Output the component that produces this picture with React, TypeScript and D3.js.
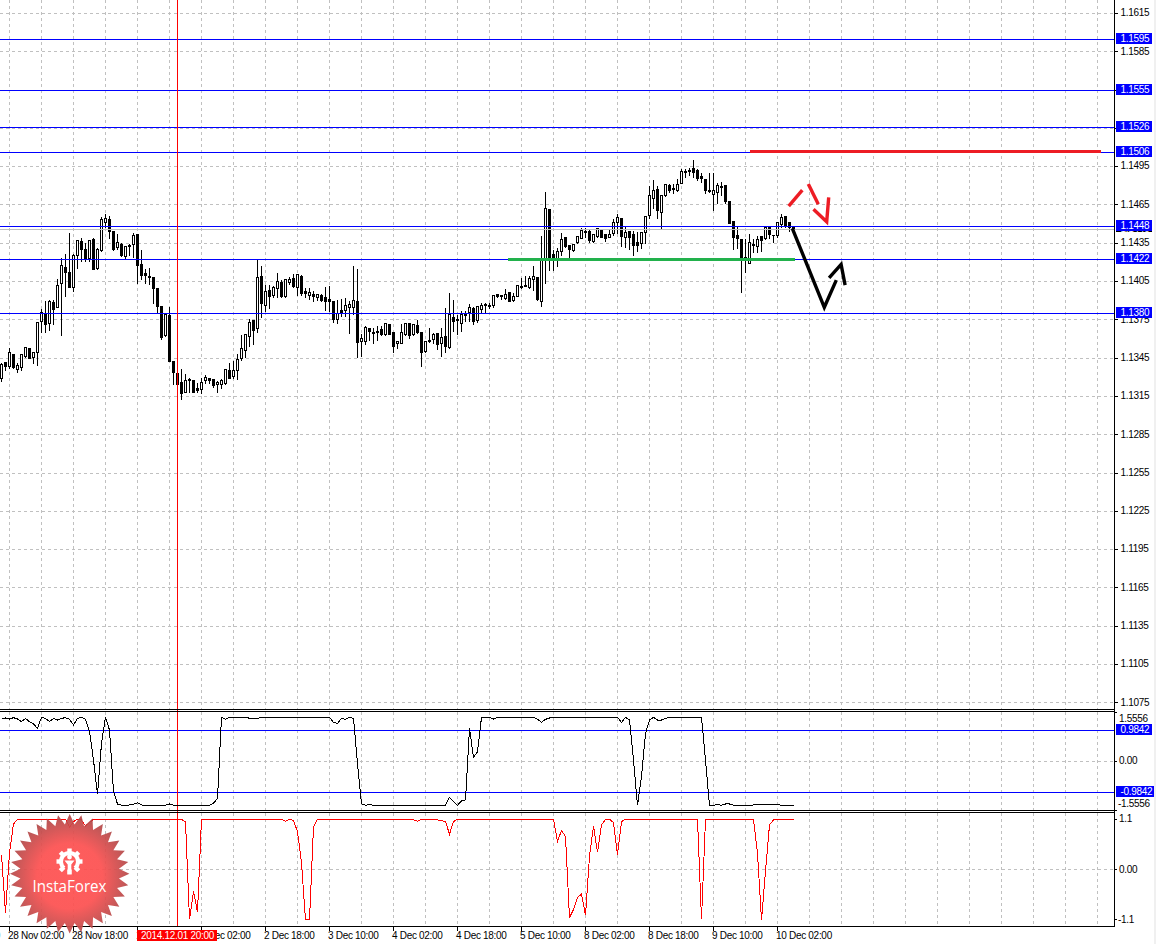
import React from "react";
import * as d3 from "d3";

const opens = [
1.13293,1.13415,1.13387,1.13479,1.13364,1.13379,1.13466,1.13523,1.13458,1.13497,
1.13740,1.13795,1.13724,1.13883,1.13849,1.14032,1.14158,1.14121,1.14001,1.14254,
1.14361,1.14299,1.14228,1.14377,1.14155,1.14291,1.14515,1.14534,1.14440,1.14319,
1.14340,1.14249,1.14332,1.14338,1.14419,1.14181,1.14111,1.14087,1.14079,1.13993,
1.13852,1.13630,1.13784,1.13421,1.13332,1.13259,1.13184,1.13280,1.13272,1.13210,
1.13202,1.13272,1.13291,1.13280,1.13241,1.13246,1.13254,1.13351,1.13309,1.13356,
1.13450,1.13507,1.13620,1.13745,1.13680,1.14090,1.13865,1.13980,1.13943,1.13993,
1.14043,1.13933,1.14043,1.14074,1.14004,1.14090,1.13970,1.13943,1.13946,1.13928,
1.13938,1.13923,1.13910,1.13891,1.13755,1.13821,1.13823,1.13849,1.13849,1.13894,
1.13583,1.13583,1.13680,1.13648,1.13659,1.13672,1.13635,1.13714,1.13651,1.13562,
1.13567,1.13635,1.13722,1.13635,1.13706,1.13651,1.13505,1.13586,1.13599,1.13641,
1.13567,1.13620,1.13536,1.13769,1.13753,1.13724,1.13792,1.13810,1.13839,1.13748,
1.13834,1.13868,1.13860,1.13863,1.13946,1.13941,1.13917,1.13964,1.13902,1.13936,
1.14011,1.14017,1.14004,1.14069,1.14079,1.13896,1.14220,1.14615,1.14259,1.14220,
1.14288,1.14393,1.14330,1.14293,1.14356,1.14390,1.14445,1.14442,1.14364,1.14403,
1.14453,1.14416,1.14398,1.14426,1.14513,1.14544,1.14395,1.14445,1.14416,1.14356,
1.14348,1.14437,1.14567,1.14703,1.14769,1.14594,1.14724,1.14800,1.14776,1.14763,
1.14821,1.14904,1.14917,1.14936,1.14920,1.14873,1.14852,1.14763,1.14735,1.14750,
1.14795,1.14805,1.14675,1.14521,1.14411,1.14382,1.14241,1.14194,1.14340,1.14327,
1.14400,1.14387,1.14473,1.14411,1.14411,1.14500,1.14557,1.14510,1.14471];

const highs = [
1.13413,1.13423,1.13534,1.13489,1.13416,1.13489,1.13541,1.13534,1.13505,1.13732,
1.13836,1.13902,1.13907,1.13907,1.14071,1.14236,1.14267,1.14432,1.14267,1.14377,
1.14398,1.14359,1.14380,1.14398,1.14314,1.14560,1.14581,1.14570,1.14440,1.14429,
1.14356,1.14332,1.14351,1.14432,1.14424,1.14299,1.14155,1.14160,1.14079,1.13993,
1.13852,1.13797,1.13855,1.13421,1.13366,1.13366,1.13327,1.13301,1.13272,1.13257,
1.13296,1.13325,1.13296,1.13293,1.13275,1.13293,1.13359,1.13413,1.13432,1.13484,
1.13633,1.13633,1.13763,1.13745,1.14228,1.14173,1.14027,1.14027,1.14019,1.14124,
1.14064,1.14069,1.14090,1.14111,1.14116,1.14105,1.14001,1.14001,1.13980,1.13954,
1.13954,1.14011,1.14019,1.13891,1.13912,1.13920,1.13928,1.13902,1.14173,1.14150,
1.13641,1.13706,1.13693,1.13693,1.13706,1.13706,1.13732,1.13719,1.13654,1.13588,
1.13719,1.13729,1.13729,1.13719,1.13750,1.13659,1.13588,1.13688,1.13654,1.13654,
1.13693,1.13844,1.13964,1.13912,1.13792,1.13823,1.13823,1.13881,1.13855,1.13863,
1.13889,1.13889,1.13889,1.13941,1.13959,1.13949,1.13996,1.13964,1.13967,1.14017,
1.14079,1.14100,1.14098,1.14176,1.14079,1.14411,1.14755,1.14622,1.14301,1.14314,
1.14432,1.14403,1.14340,1.14346,1.14403,1.14476,1.14471,1.14455,1.14419,1.14468,
1.14463,1.14419,1.14463,1.14541,1.14581,1.14549,1.14481,1.14450,1.14450,1.14445,
1.14445,1.14560,1.14802,1.14849,1.14802,1.14724,1.14816,1.14816,1.14816,1.14855,
1.14938,1.14933,1.14941,1.15006,1.14933,1.14907,1.14855,1.14902,1.14902,1.14829,
1.14836,1.14805,1.14675,1.14521,1.14489,1.14382,1.14385,1.14429,1.14385,1.14411,
1.14411,1.14481,1.14481,1.14419,1.14515,1.14581,1.14560,1.14515,1.14471];

const lows = [
1.13267,1.13353,1.13366,1.13372,1.13340,1.13353,1.13458,1.13450,1.13406,1.13393,
1.13654,1.13654,1.13667,1.13711,1.13849,1.13628,1.13933,1.14001,1.13975,1.14155,
1.14207,1.14205,1.14207,1.14142,1.14145,1.14286,1.14476,1.14390,1.14293,1.14301,
1.14246,1.14233,1.14254,1.14236,1.14037,1.14069,1.14032,1.14024,1.13876,1.13808,
1.13599,1.13620,1.13424,1.13244,1.13244,1.13129,1.13179,1.13184,1.13179,1.13179,
1.13176,1.13249,1.13249,1.13223,1.13184,1.13210,1.13244,1.13288,1.13288,1.13283,
1.13432,1.13458,1.13541,1.13557,1.13654,1.13766,1.13816,1.13836,1.13928,1.13928,
1.13923,1.13928,1.14030,1.14001,1.13941,1.13941,1.13923,1.13912,1.13894,1.13902,
1.13894,1.13823,1.13816,1.13732,1.13724,1.13779,1.13776,1.13646,1.13792,1.13458,
1.13463,1.13557,1.13588,1.13562,1.13588,1.13628,1.13628,1.13633,1.13497,1.13523,
1.13567,1.13630,1.13607,1.13628,1.13646,1.13387,1.13497,1.13573,1.13562,1.13515,
1.13466,1.13492,1.13523,1.13661,1.13635,1.13661,1.13735,1.13740,1.13714,1.13727,
1.13797,1.13797,1.13836,1.13849,1.13923,1.13912,1.13910,1.13896,1.13894,1.13933,
1.13993,1.14011,1.13993,1.13980,1.13902,1.13857,1.14032,1.14137,1.14137,1.14168,
1.14254,1.14314,1.14228,1.14288,1.14346,1.14385,1.14398,1.14359,1.14356,1.14398,
1.14393,1.14364,1.14393,1.14411,1.14424,1.14325,1.14319,1.14299,1.14254,1.14288,
1.14306,1.14346,1.14541,1.14620,1.14547,1.14468,1.14716,1.14745,1.14737,1.14758,
1.14816,1.14868,1.14881,1.14868,1.14842,1.14829,1.14737,1.14750,1.14607,1.14664,
1.14724,1.14664,1.14502,1.14301,1.14306,1.13967,1.14124,1.14194,1.14280,1.14280,
1.14288,1.14382,1.14385,1.14356,1.14398,1.14476,1.14471,1.14445,1.14445];

const closes = [
1.13400,1.13387,1.13492,1.13379,1.13390,1.13476,1.13534,1.13450,1.13492,1.13727,
1.13810,1.13716,1.13891,1.13834,1.14017,1.14173,1.14121,1.14006,1.14252,1.14372,
1.14304,1.14220,1.14372,1.14147,1.14299,1.14534,1.14541,1.14445,1.14304,1.14353,
1.14254,1.14325,1.14327,1.14408,1.14173,1.14100,1.14100,1.14084,1.13996,1.13855,
1.13612,1.13792,1.13424,1.13340,1.13244,1.13176,1.13272,1.13278,1.13184,1.13197,
1.13257,1.13296,1.13272,1.13233,1.13259,1.13272,1.13359,1.13293,1.13353,1.13437,
1.13523,1.13633,1.13727,1.13669,1.14079,1.13881,1.13970,1.13933,1.14001,1.14048,
1.13933,1.14064,1.14066,1.14011,1.14103,1.13959,1.13959,1.13962,1.13936,1.13946,
1.13902,1.13896,1.13894,1.13750,1.13797,1.13805,1.13860,1.13873,1.13899,1.13575,
1.13601,1.13688,1.13656,1.13641,1.13651,1.13635,1.13722,1.13638,1.13544,1.13578,
1.13648,1.13719,1.13630,1.13714,1.13651,1.13494,1.13581,1.13581,1.13635,1.13560,
1.13612,1.13544,1.13792,1.13737,1.13742,1.13792,1.13784,1.13849,1.13735,1.13852,
1.13860,1.13865,1.13857,1.13938,1.13930,1.13933,1.13946,1.13896,1.13933,1.14017,
1.14006,1.14014,1.14071,1.14087,1.13907,1.14215,1.14620,1.14241,1.14228,1.14283,
1.14380,1.14325,1.14304,1.14340,1.14400,1.14447,1.14432,1.14372,1.14416,1.14463,
1.14398,1.14390,1.14419,1.14510,1.14549,1.14406,1.14432,1.14398,1.14333,1.14333,
1.14432,1.14557,1.14722,1.14763,1.14609,1.14722,1.14808,1.14763,1.14774,1.14810,
1.14912,1.14912,1.14915,1.14907,1.14857,1.14860,1.14763,1.14755,1.14763,1.14802,
1.14789,1.14675,1.14507,1.14395,1.14390,1.14228,1.14215,1.14356,1.14335,1.14380,
1.14372,1.14471,1.14416,1.14408,1.14510,1.14552,1.14489,1.14471,1.14455];

// oscillator readings as [bar, value] vertices
const upperOsc: [number, number][] = [
[0,1.364],[1,1.375],[2,1.343],[3,1.385],[4,1.343],[5,1.258],[6,1.364],[7,1.258],[8,1.184],[9,1.047],[10,1.396],[11,1.364],[12,1.258],[13,1.364],[14,1.311],[15,1.364],[16,1.385],[17,1.332],[18,1.152],[19,1.364],[20,1.396],[21,1.332],[22,0.941],[23,0.042],[24,-1.048],[25,0.571],[26,1.396],[27,0.994],[28,-0.964],[29,-1.355],[30,-1.397],[32,-1.387],[33,-1.366],[34,-1.313],[35,-1.387],[36,-1.397],[41,-1.397],[42,-1.355],[43,-1.397],[52,-1.397],[53,-1.334],[54,-1.175],[55,1.396],[56,1.332],[57,1.396],[64,1.364],[65,1.396],[82,1.396],[83,1.227],[84,1.205],[85,1.364],[86,1.332],[87,1.396],[88,1.364],[89,-0.064],[90,-1.355],[91,-1.397],[92,-1.376],[93,-1.397],[111,-1.397],[112,-1.143],[113,-1.281],[114,-1.397],[115,-1.260],[116,-1.228],[117,1.047],[118,0.126],[119,0.306],[120,1.396],[122,1.396],[123,1.343],[124,1.396],[133,1.396],[134,1.332],[135,1.237],[136,1.332],[137,1.375],[138,1.396],[154,1.396],[155,1.227],[156,1.396],[157,1.311],[158,0.042],[159,-1.397],[160,-0.487],[161,0.888],[162,1.311],[163,1.396],[164,1.311],[165,1.311],[166,1.364],[167,1.396],[175,1.396],[176,0.042],[177,-1.397],[178,-1.397],[179,-1.376],[180,-1.397],[181,-1.355],[182,-1.355],[183,-1.397],[194,-1.376],[195,-1.397],[198,-1.397]];

const lowerOsc: [number, number][] = [
[0,0.317],[1,-0.954],[2,0.353],[3,0.992],[4,1.094],[16,1.094],[17,0.920],[18,1.043],[19,1.094],[20,1.079],[21,0.949],[22,1.021],[23,1.094],[45,1.094],[46,1.036],[47,-1.099],[48,-0.482],[49,-0.939],[50,1.094],[70,1.094],[71,1.050],[72,1.094],[73,1.065],[74,0.825],[75,0.136],[76,-1.113],[77,-1.113],[78,0.934],[79,1.094],[102,1.094],[103,1.079],[104,1.050],[105,1.094],[107,1.094],[108,1.079],[109,1.079],[110,1.065],[111,1.043],[112,0.767],[113,1.043],[114,1.094],[138,1.094],[139,0.607],[140,0.847],[141,0.716],[142,-1.062],[143,-0.881],[144,-0.627],[145,-0.540],[146,-1.011],[147,0.281],[148,0.949],[149,0.368],[150,0.970],[151,1.094],[152,1.094],[153,1.021],[154,0.317],[155,1.043],[156,1.094],[174,1.094],[175,-1.099],[176,1.094],[188,1.094],[189,0.353],[190,-1.113],[191,-0.046],[192,0.970],[193,1.079],[194,1.094],[198,1.094]];

const priceTicks = [1.1615,1.1585,1.1555,1.1525,1.1495,1.1465,1.1435,1.1405,1.1375,1.1345,1.1315,1.1285,1.1255,1.1225,1.1195,1.1165,1.1135,1.1105,1.1075];
const levelPrices = [1.1595,1.1555,1.1526,1.1506,1.1448,1.1422,1.138];
const bidPrice = 1.1446;
const upperLevels = [0.9842,-0.9842];
const upperTicks: [number, string, number][] = [[1.5556,"1.5556",718],[0,"0.00",760.7],[-1.5556,"-1.5556",803.7]];
const lowerTicks: [number, string][] = [[1.1,"1.1"],[0,"0.00"],[-1.1,"-1.1"]];
const timeTickBars = [-14,2,18,34,50,66,82,98,114,130,146,162,178,194];
const timeTickLabels = ["27 Nov 10:00","28 Nov 02:00","28 Nov 18:00","1 Dec 10:00","2 Dec 02:00","2 Dec 18:00","3 Dec 10:00","4 Dec 02:00","4 Dec 18:00","5 Dec 10:00","8 Dec 02:00","8 Dec 18:00","9 Dec 10:00","10 Dec 02:00"];
const cursorBar = 44;
const cursorLabel = "2014.12.01 20:00";
const gridBars = d3.range(2, 276, 8);

// hand-drawn annotations as [bar, price]
const redLevel: [number, number][] = [[187.2,1.15065],[274.9,1.15065]];
const greenLevel: [number, number][] = [[126.7,1.14219],[198.4,1.14219]];
const blackStrokeA: [number, number][] = [[197.7,1.14463],[205.7,1.13845],[208.7,1.14058]];
const blackStrokeB: [number, number][] = [[206.9,1.14076],[209.9,1.14181],[210.9,1.14019]];
const redStrokeA: [number, number][] = [[196.8,1.14638],[200.2,1.14763]];
const redStrokeB: [number, number][] = [[201.7,1.1481],[204.2,1.14651]];
const redStrokeC: [number, number][] = [[203,1.14612],[206.3,1.14515],[206.8,1.14706]];

const W = 1156, H = 944, AXIS_X = 1114.5, FONT = "'Liberation Sans', Arial, sans-serif";
const BLUE = "#0000ff", GRID = "#c0c0c0", PAINT_RED = "#ed1c24", PAINT_GREEN = "#22b14c";

const x = d3.scaleLinear().domain([0, 1]).range([1.5, 5.5]);
const y = d3.scaleLinear().domain([1.1075, 1.1615]).range([702.4, 13]);
const yU = d3.scaleLinear().domain([-1.5556, 1.5556]).range([810.3, 712.3]);
const yL = d3.scaleLinear().domain([-1.1, 1.1]).range([919.4, 819]);
const crisp = (v: number) => Math.round(v) + 0.5;
const priceLine = d3.line<[number, number]>().x(d => x(d[0])).y(d => y(d[1]));
const upperLine = d3.line<[number, number]>().x(d => x(d[0])).y(d => yU(d[1]));
const lowerLine = d3.line<[number, number]>().x(d => x(d[0])).y(d => yL(d[1]));

const txt = { fontFamily: FONT, fontSize: 10, letterSpacing: -0.3 } as const;

function Tag({ yc, label, fill = BLUE, w = 36, h = 11 }: { yc: number; label: string; fill?: string; w?: number; h?: number }) {
  return (
    <g>
      <rect x={1116} y={Math.round(yc) - 6} width={w} height={h} fill={fill} />
      <text x={1120.5} y={Math.round(yc) + 3.2} fill="#fff" {...txt}>{label}</text>
    </g>
  );
}

function Candles() {
  return (
    <g shapeRendering="crispEdges">
      {opens.map((o, i) => {
        const cx = x(i), c = closes[i];
        const top = crisp(y(Math.max(o, c))), bot = crisp(y(Math.min(o, c)));
        const doji = bot - top < 1;
        return (
          <g key={i}>
            <line x1={cx} x2={cx} y1={crisp(y(highs[i]))} y2={crisp(y(lows[i]))} stroke="#000" />
            {doji
              ? <line x1={cx - 1.5} x2={cx + 1.5} y1={top} y2={top} stroke="#000" />
              : <rect x={cx - 1} y={top} width={2} height={bot - top} fill={c >= o ? "#fff" : "#000"} stroke="#000" />}
          </g>
        );
      })}
    </g>
  );
}

function Watermark() {
  const cx = 69.7, cy = 873.7, rays = 32;
  const pts: [number, number][] = d3.range(rays * 2).map(k => [k * Math.PI / rays, k % 2 === 0 ? 59.7 : 49.5]);
  const star = d3.lineRadial<[number, number]>().angle(d => d[0]).radius(d => d[1]).curve(d3.curveLinearClosed)(pts) as string;
  const gx = 69.5, gy = 861.5;
  const teeth = d3.range(8).map(k => k * 45);
  return (
    <g>
      <defs>
        <radialGradient id="wm" cx="50%" cy="52%" r="50%">
          <stop offset="0%" stopColor="#ff5050" />
          <stop offset="55%" stopColor="#fc5050" />
          <stop offset="100%" stopColor="#b34a4a" />
        </radialGradient>
      </defs>
      <path d={star} transform={`translate(${cx},${cy})`} fill="url(#wm)" fillOpacity={0.93} />
      <g fill="#fff">
        {teeth.map(a => <rect key={a} x={gx - 2.2} y={gy - 13} width={4.4} height={5} transform={`rotate(${a} ${gx} ${gy})`} />)}
        <path d={d3.arc()({ innerRadius: 6.5, outerRadius: 10.5, startAngle: -2.45, endAngle: 2.45 }) as string} transform={`translate(${gx},${gy})`} />
        <circle cx={gx} cy={gy - 4.5} r={2.4} />
        <path d={`M${gx - 5},${gy - 1}L${gx + 5},${gy - 1}L${gx + 1.8},${gy + 3}L${gx + 1.8},${gy + 12.5}L${gx - 1.8},${gy + 12.5}L${gx - 1.8},${gy + 3}Z`} />
      </g>
      <text x={32.5} y={891.5} fill="#fff" fontFamily="'Open Sans', sans-serif" fontSize={17} textLength={74} lengthAdjust="spacingAndGlyphs">InstaForex</text>
    </g>
  );
}

export default function App() {
  const hLine = (yy: number, key: React.Key, stroke: string, dash?: string) => (
    <line key={key} x1={0} x2={AXIS_X} y1={crisp(yy)} y2={crisp(yy)} stroke={stroke} strokeDasharray={dash} />
  );
  const paint = (p: [number, number][], color: string, w = 3.4, crispy = false) => (
    <path d={priceLine(p) as string} fill="none" stroke={color} strokeWidth={w} shapeRendering={crispy ? "crispEdges" : undefined} />
  );
  return (
    <svg width={W} height={H} viewBox={`0 0 ${W} ${H}`} style={{ position: "fixed", left: 0, top: 0, background: "#fff" }}>
      <rect x={1154} y={0} width={2} height={H} fill="#f0f0f0" />
      <g shapeRendering="crispEdges">
        {gridBars.map(b => (
          <g key={b} stroke={GRID} strokeDasharray="3 3">
            <line x1={x(b)} x2={x(b)} y1={0} y2={709} />
            <line x1={x(b)} x2={x(b)} y1={712} y2={810} />
            <line x1={x(b)} x2={x(b)} y1={813} y2={926} />
          </g>
        ))}
        {priceTicks.map(t => hLine(y(t), t, GRID, "3 3"))}
        {hLine(yU(0), "u0", GRID, "3 3")}
        {hLine(yL(0), "l0", GRID, "3 3")}
      </g>
      <Candles />
      <g shapeRendering="crispEdges">
        {hLine(y(bidPrice), "bid", GRID)}
        {levelPrices.map(p => hLine(y(p), p, BLUE))}
        {upperLevels.map(p => hLine(yU(p), p, BLUE))}
        <line x1={x(cursorBar)} x2={x(cursorBar)} y1={0} y2={926} stroke="#ff0000" />
      </g>
      <g shapeRendering="crispEdges">
        <path d={upperLine(upperOsc) as string} fill="none" stroke="#000" />
        <path d={lowerLine(lowerOsc) as string} fill="none" stroke="#ff0000" />
      </g>
      <g shapeRendering="crispEdges" stroke="#000">
        {[709.5, 711.5, 810.5, 812.5, 926.5].map(v => <line key={v} x1={0} x2={AXIS_X} y1={v} y2={v} />)}
        <line x1={AXIS_X} x2={AXIS_X} y1={0} y2={927} />
        {priceTicks.map(t => <line key={t} x1={AXIS_X} x2={1118} y1={crisp(y(t))} y2={crisp(y(t))} />)}
        {upperTicks.map(t => <line key={t[0]} x1={AXIS_X} x2={1117} y1={crisp(yU(t[0]))} y2={crisp(yU(t[0]))} />)}
        {lowerTicks.map(t => <line key={t[0]} x1={AXIS_X} x2={1117} y1={crisp(yL(t[0]))} y2={crisp(yL(t[0]))} />)}
        {timeTickBars.map(b => <line key={b} x1={x(b)} x2={x(b)} y1={926} y2={931} />)}
      </g>
      {priceTicks.map(t => (
        <text key={t} x={1120.5} y={y(t) + 3.2} fill="#000" {...txt}>{t.toFixed(4)}</text>
      ))}
      {upperTicks.map(t => (
        <text key={t[1]} x={t[0] < 0 ? 1118 : 1119} y={t[2] + 3.5} fill="#000" {...txt}>{t[1]}</text>
      ))}
      {lowerTicks.map(t => (
        <text key={t[1]} x={t[0] < 0 ? 1118 : 1119} y={yL(t[0]) + 3.4} fill="#000" {...txt}>{t[1]}</text>
      ))}
      {timeTickBars.map((b, k) => (
        <text key={b} x={x(b) - 1.5} y={938.5} fill="#000" {...txt}>{timeTickLabels[k]}</text>
      ))}
      <rect x={137} y={930} width={80} height={11} fill="#ff0000" />
      <text x={141} y={938.5} fill="#fff" {...txt}>{cursorLabel}</text>

      <Tag yc={y(bidPrice)} label={bidPrice.toFixed(4)} fill="#000" h={9} />
      {levelPrices.map(p => <Tag key={p} yc={y(p)} label={p.toFixed(4)} />)}
      <Tag yc={yU(upperLevels[0])} label={upperLevels[0].toFixed(4)} />
      <Tag yc={yU(upperLevels[1])} label={upperLevels[1].toFixed(4)} w={38} />

      {paint(greenLevel, PAINT_GREEN, 3, true)}
      {paint(redLevel, PAINT_RED, 3, true)}
      {paint(blackStrokeA, "#000")}
      {paint(blackStrokeB, "#000")}
      {paint(redStrokeA, PAINT_RED)}
      {paint(redStrokeB, PAINT_RED)}
      {paint(redStrokeC, PAINT_RED)}
      <Watermark />
    </svg>
  );
}
